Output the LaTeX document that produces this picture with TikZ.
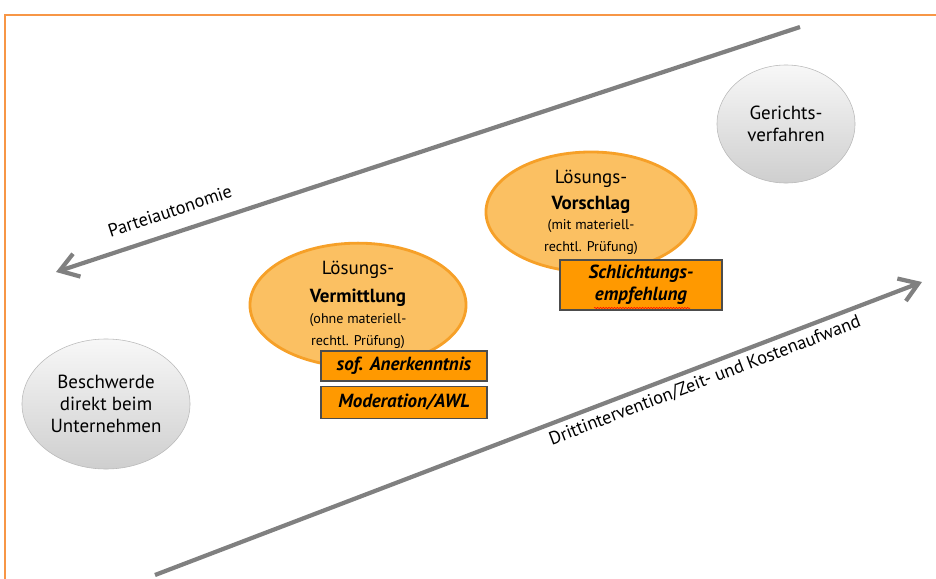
\documentclass[tikz,border=0pt]{standalone}
\usepackage{fontspec}
\setmainfont{PT Sans}
\usetikzlibrary{shapes.geometric,arrows.meta,positioning,decorations.pathmorphing}
\definecolor{framecol}{RGB}{247,150,70}
\definecolor{arrowgray}{RGB}{128,128,128}
\definecolor{lightorange}{RGB}{251,192,98}
\definecolor{darkorange}{RGB}{246,160,40}
\definecolor{boxorange}{RGB}{255,153,0}
\newcommand{\smalltxt}{\fontsize{10}{12}\selectfont}

\begin{document}
\begin{tikzpicture}[x=0.025cm, y=-0.025cm,
  grey/.style={ellipse, draw=gray!55, top color=gray!6, bottom color=gray!38, align=center, inner sep=0pt, font=\fontsize{13.5}{15.5}\selectfont},
  solution/.style={ellipse, draw=darkorange, line width=2pt, fill=lightorange, align=center, inner sep=0pt, font=\fontsize{13.5}{15.5}\selectfont},
  tag/.style={draw=black!70, fill=boxorange, line width=0.8pt, minimum width=4.15cm, inner sep=0pt, align=center, font=\bfseries\itshape\fontsize{13.5}{15.5}\selectfont},
  arrow/.style={-{Straight Barb[length=0.45cm,width=0.6cm]}, line width=3pt, arrowgray},
  axislabel/.style={font=\fontsize{13}{15}\selectfont},
]
  \useasboundingbox (0,0) rectangle (936,579);
  \draw[framecol, line width=1pt] (5,579) -- (5,15) -- (936,15);

  % axes
  \coordinate (autstart) at (800,27);
  \coordinate (autend) at (56,272);
  \coordinate (coststart) at (155,575);
  \coordinate (costend) at (922,282);
  \draw[arrow] (autstart) -- (autend);
  \draw[arrow] (coststart) -- (costend);
  \node[axislabel, rotate=18.3] (aut) at (170,211) {Parteiautonomie};
  \node[axislabel, rotate=21] (cost) at (705,381) {Drittintervention/Zeit- und Kostenaufwand};

  % procedures
  \node[grey, minimum width=4.2cm, minimum height=3.25cm] (complaint) at (106,404) {Beschwerde\\direkt beim\\Unternehmen};
  \node[grey, minimum width=3.45cm, minimum height=2.95cm] (court) at (786,124) {Gerichts-\\verfahren};
  \node[solution, minimum width=5.4cm, minimum height=3.0cm] (mediation) at (358,305) {L\"osungs-\\[4pt]{\bfseries Vermittlung}\\[0pt]{\smalltxt (ohne materiell-}\\[0pt]{\smalltxt rechtl. Pr\"ufung)}};
  \node[solution, minimum width=5.25cm, minimum height=3.0cm] (proposal) at (591,212) {L\"osungs-\\[3pt]{\bfseries Vorschlag}\\[-1pt]{\smalltxt (mit materiell-}\\[0pt]{\smalltxt rechtl. Pr\"ufung)}};

  % outcomes
  \node[tag, minimum height=0.75cm] (ack) at (404,366) {sof. Anerkenntnis};
  \node[tag, minimum height=0.8cm, below=0.1cm of ack] (moderation) {Moderation/AWL};
  \node[tag, minimum width=4.05cm, minimum height=1.25cm] (recommend) at (641,285) {Schlichtungs-\\empfehlung};
  \draw[red, line width=0.4pt, decorate, decoration={snake, amplitude=0.4pt, segment length=2pt}] (594,308) -- (690,308);
\end{tikzpicture}
\end{document}
